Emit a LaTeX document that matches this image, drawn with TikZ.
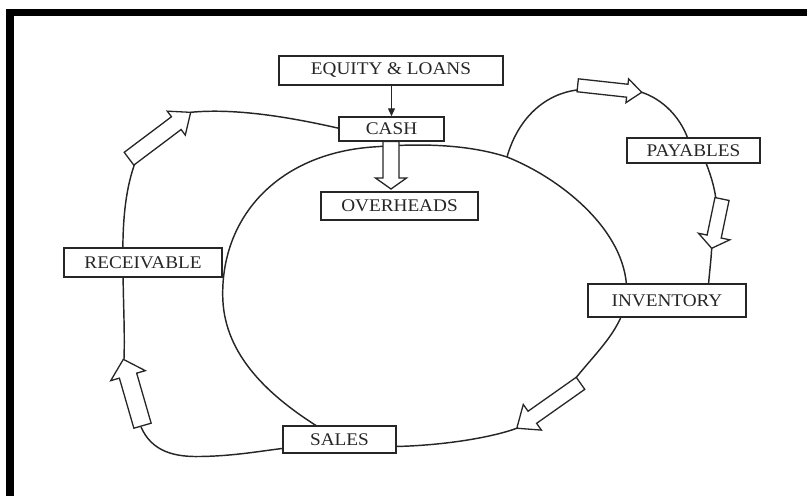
\documentclass[tikz,border=0pt]{standalone}
\usepackage{fontspec}
\setmainfont{Liberation Serif}[FakeStretch=1.08]
\usetikzlibrary{arrows.meta,calc}
\tikzset{
  box/.style={draw=black!85,line width=1.5pt,fill=white,inner sep=0pt,
    font=\fontsize{17.8}{20}\selectfont,text=black!85},
  loopline/.style={draw=black!85,line width=1.45pt},
  hollow/.style={draw=black!85,line width=1.3pt,fill=white,line join=miter},
  feed/.style={draw=black!85,line width=1.3pt,-{Triangle[length=8pt,width=7pt]}},
}
% tail x, tail y, tip x, tip y, shaft half-width, head half-width, head length
\newcommand\harrow[7]{%
  \pgfmathsetmacro\hAang{atan2(-(#4-#2),#3-#1)}%
  \pgfmathsetmacro\hAlen{veclen(#3-#1,#4-#2)}%
  \pgfmathsetmacro\hAbase{\hAlen-#7}%
  \begin{scope}[shift={(#1,#2)},rotate=\hAang]
    \draw[hollow] (0,-#5) -- (\hAbase,-#5) -- (\hAbase,-#6) -- (\hAlen,0)
      -- (\hAbase,#6) -- (\hAbase,#5) -- (0,#5) -- cycle;
  \end{scope}}
\begin{document}
\begin{tikzpicture}[x=1pt,y=-1pt]
\useasboundingbox (0,0) rectangle (807,496);
% frame
\fill[black] (6,9) rectangle (807,16);
\fill[black] (6,9) rectangle (14,496);

% named points of the hollow arrows
\coordinate (a1tip) at (190.7,112.3);
\coordinate (a1end) at (135,163);
\coordinate (a3tail) at (577,90);
\coordinate (a3tip) at (641.7,92.3);
\coordinate (a4tail) at (716,199);
\coordinate (a4tip) at (711.7,248);
\coordinate (a5tail) at (575,379);
\coordinate (a5tip) at (516.7,428.3);
\coordinate (a6tip) at (124,359);
\coordinate (a6end) at (141,427);
\coordinate (branch) at (507,157);

% inner loop (cash -> inventory -> sales -> cash)
\draw[loopline] (320,428) .. controls (262,392) and (223,350) .. (222.7,295)
  .. controls (222,215) and (280,152) .. (377,146.7)
  .. controls (425,143) and (470,145) .. (branch)
  .. controls (560,178) and (626,230) .. (626.7,290)
  .. controls (627,325) and (598,350) .. (a5tail);
\draw[loopline] (a5tip) .. controls (490,438) and (440,446) .. (390,446.6);

% outer left loop (sales -> receivable -> cash)
\draw[loopline] (342,129) .. controls (290,117) and (235,108) .. (a1tip);
\draw[loopline] (a1end) .. controls (127,185) and (122,215) .. (123,262)
  .. controls (123,300) and (125,330) .. (a6tip);
\draw[loopline] (a6end) .. controls (152,452) and (175,457) .. (200,456.5)
  .. controls (235,456) and (260,451) .. (290,447.5);

% outer right loop (cash -> payables -> inventory)
\draw[loopline] (branch) .. controls (518,118) and (545,94) .. (a3tail);
\draw[loopline] (a3tip) .. controls (662,99) and (682,117) .. (690,145);
\draw[loopline] (704,158) .. controls (711,175) and (714,186) .. (a4tail);
\draw[loopline] (a4tip) .. controls (711,262) and (709,275) .. (708,292);

% boxes
\node[box,minimum width=224pt,minimum height=29pt] (eq) at (391,70.5) {EQUITY \& LOANS};
\node[box,minimum width=105pt,minimum height=24pt] (cash) at (391.5,129) {CASH};
\node[box,minimum width=157pt,minimum height=28pt] (over) at (399.5,206) {OVERHEADS};
\node[box,minimum width=158pt,minimum height=29pt] (recv) at (143,262.5) {RECEIVABLE};
\node[box,minimum width=133pt,minimum height=25pt] (pay) at (693.5,150.5) {PAYABLES};
\node[box,minimum width=158pt,minimum height=33pt] (inv) at (667,300.5) {INVENTORY};
\node[box,minimum width=113pt,minimum height=27pt] (sales) at (339.5,439.5) {SALES};

% feed arrow
\draw[feed] (eq.south -| cash.north) -- (cash.north);

% hollow arrows
\harrow{391}{141.5}{391}{189}{8}{15.5}{11}
\harrow{129}{158.7}{190.7}{112.3}{8}{15}{18}
\harrow{577.7}{85.3}{641.7}{92.3}{6.5}{12}{14.5}
\harrow{722}{199}{711.7}{248.3}{7.2}{16}{12}
\harrow{580.5}{383.3}{516.7}{428.3}{7.4}{15.7}{19}
\harrow{142.5}{425.7}{123.3}{359.3}{9}{18}{17}
\end{tikzpicture}
\end{document}
